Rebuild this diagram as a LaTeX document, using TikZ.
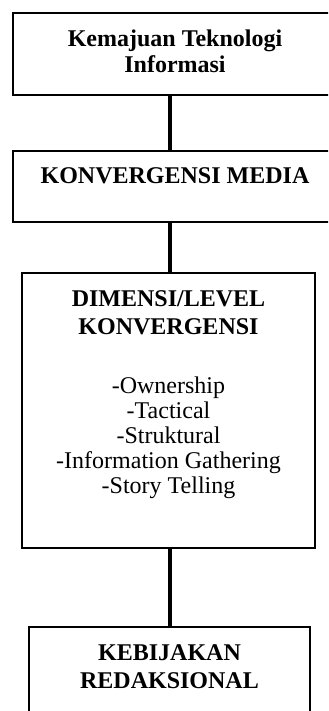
\documentclass[tikz,border=0pt]{standalone}
\usepackage{fontspec}
\setmainfont{Liberation Serif}
\begin{document}
\begin{tikzpicture}[x=0.5pt,y=-0.5pt,
  boxstyle/.style={draw=black,line width=0.65pt,fill=white,rectangle,inner sep=0pt,outer sep=0pt},
  ttl/.style={font=\fontsize{12}{13.5}\selectfont\bfseries,anchor=base,inner sep=0pt},
  itm/.style={font=\fontsize{12}{12.5}\selectfont,anchor=base,inner sep=0pt},
  link/.style={draw=black,line width=2pt}]
\useasboundingbox (0,0) rectangle (328,711);
\clip (0,0) rectangle (328,711);
% boxes
\node[boxstyle,minimum width=162pt,minimum height=41pt] (b1) at (175,54) {};
\node[boxstyle,minimum width=162pt,minimum height=35.5pt] (b2) at (175,186.5) {};
\node[boxstyle,minimum width=146.5pt,minimum height=137.5pt] (b3) at (168.5,410.5) {};
\node[boxstyle,minimum width=140.5pt,minimum height=48pt] (b4) at (169.5,675) {};
% connectors
\draw[link] (b1.south -| b4.center) -- (b2.north -| b4.center);
\draw[link] (b2.south -| b4.center) -- (b3.north -| b4.center);
\draw[link] (b3.south -| b4.center) -- (b4.north -| b4.center);
% texts
\node[ttl] (t1a) at (175,47) {Kemajuan Teknologi};
\node[ttl] (t1b) at (175,73) {Informasi};
\node[ttl] (t2) at (175,184) {KONVERGENSI MEDIA};
\node[ttl] (t3a) at (168.5,306) {DIMENSI/LEVEL};
\node[ttl] (t3b) at (168.5,334) {KONVERGENSI};
\node[itm] (i1) at (168.5,393) {-Ownership};
\node[itm] (i2) at (168.5,418) {-Tactical};
\node[itm] (i3) at (168.5,443) {-Struktural};
\node[itm] (i4) at (168.5,468) {-Information Gathering};
\node[itm] (i5) at (168.5,493) {-Story Telling};
\node[ttl] (t4a) at (169.5,660) {KEBIJAKAN};
\node[ttl] (t4b) at (169.5,688) {REDAKSIONAL};
\end{tikzpicture}
\end{document}
